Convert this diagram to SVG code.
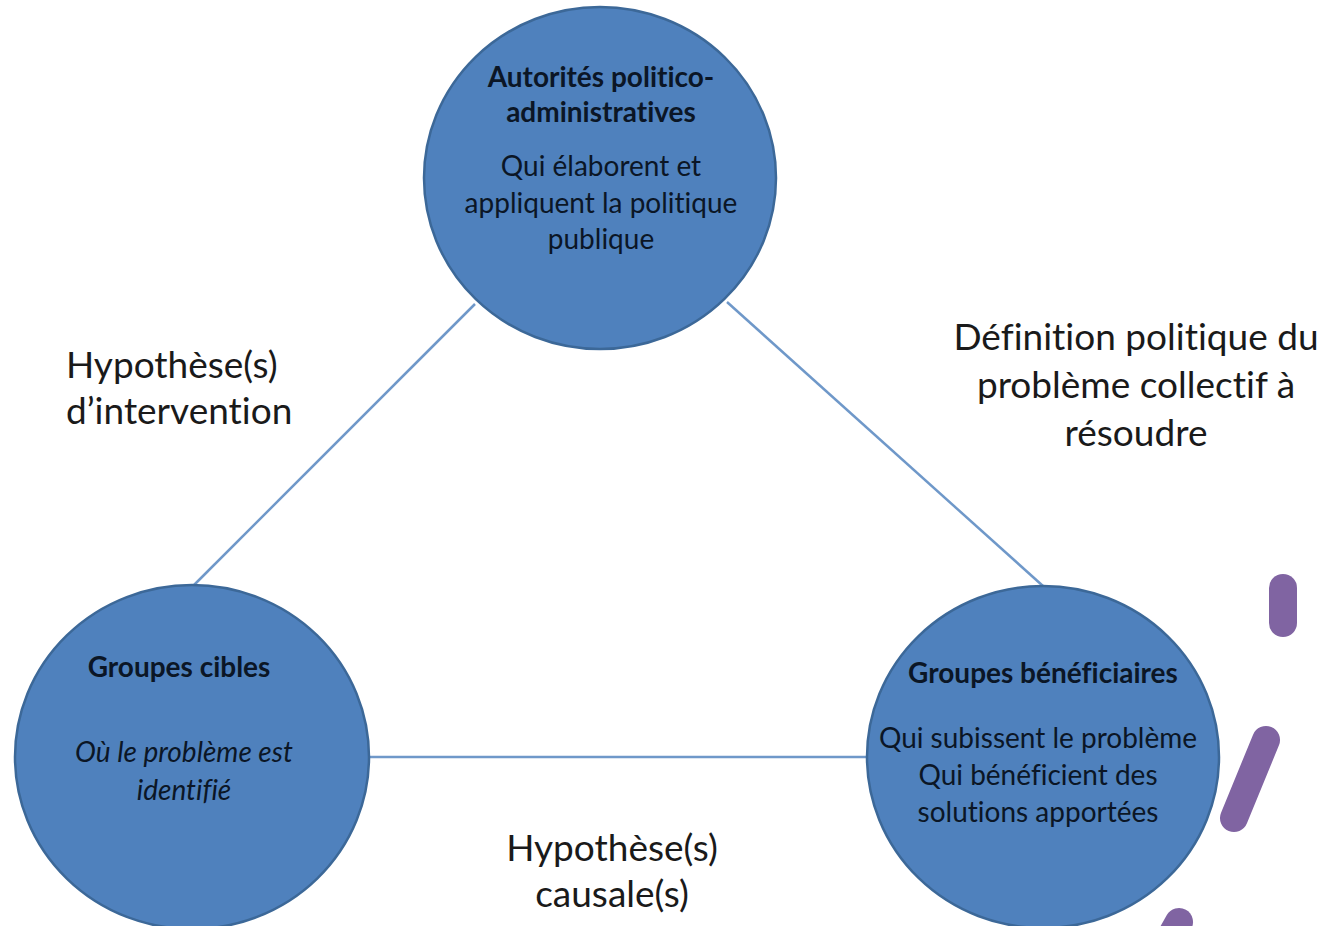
<svg xmlns="http://www.w3.org/2000/svg" width="1338" height="926" viewBox="0 0 1338 926">
<style>
.node{fill:#4f81bd;stroke:#3c6898;stroke-width:2.5}
.conn{stroke:#6f98c9;stroke-width:2.5;fill:none}
.t{font-family:Lato,"Open Sans","Liberation Sans",sans-serif;fill:#0b1626;text-anchor:middle;font-variant-ligatures:none}
.b{font-weight:bold}
.i{font-style:italic}
.c{font-size:28px}
.lbl{font-family:Lato,"Open Sans","Liberation Sans",sans-serif;fill:#1a1a1a;font-size:37px;font-variant-ligatures:none}
.mark{stroke:#8064a2;stroke-width:28;stroke-linecap:round;fill:none}
</style>
<rect width="1338" height="926" fill="#ffffff"/>
<g id="connectors">
<line class="conn" x1="475" y1="304" x2="193" y2="586"/>
<line class="conn" x1="727" y1="302" x2="1043" y2="586"/>
<line class="conn" x1="368" y1="757" x2="868" y2="757"/>
</g>
<g id="node-autorites">
<ellipse class="node" cx="600" cy="178" rx="176" ry="171"/>
<text class="t b c" x="601" y="87">Autorités politico-</text>
<text class="t b c" x="601" y="122">administratives</text>
<text class="t c" x="601" y="176">Qui élaborent et</text>
<text class="t c" x="601" y="213">appliquent la politique</text>
<text class="t c" x="601" y="249">publique</text>
</g>
<g id="node-cibles">
<ellipse class="node" cx="192" cy="757" rx="177" ry="172"/>
<text class="t b c" x="179" y="677">Groupes cibles</text>
<text class="t i c" x="184" y="762">Où le problème est</text>
<text class="t i c" x="184" y="800">identifié</text>
</g>
<g id="node-beneficiaires">
<ellipse class="node" cx="1043" cy="757" rx="176" ry="171"/>
<text class="t b c" x="1043" y="683">Groupes bénéficiaires</text>
<text class="t c" x="1038" y="748">Qui subissent le problème</text>
<text class="t c" x="1038" y="785">Qui bénéficient des</text>
<text class="t c" x="1038" y="822">solutions apportées</text>
</g>
<g id="label-intervention">
<text class="lbl" x="66" y="378">Hypothèse(s)</text>
<text class="lbl" x="66" y="424">d’intervention</text>
</g>
<g id="label-definition">
<text class="lbl" x="1136" y="350" text-anchor="middle">Définition politique du</text>
<text class="lbl" x="1136" y="398" text-anchor="middle">problème collectif à</text>
<text class="lbl" x="1136" y="446" text-anchor="middle">résoudre</text>
</g>
<g id="label-causales">
<text class="lbl" x="612" y="861" text-anchor="middle">Hypothèse(s)</text>
<text class="lbl" x="612" y="907" text-anchor="middle">causale(s)</text>
</g>
<g id="decor">
<line class="mark" x1="1283" y1="588" x2="1283" y2="623"/>
<line class="mark" x1="1266" y1="740" x2="1234" y2="818"/>
<line class="mark" x1="1179" y1="922" x2="1166" y2="945"/>
</g>
</svg>
